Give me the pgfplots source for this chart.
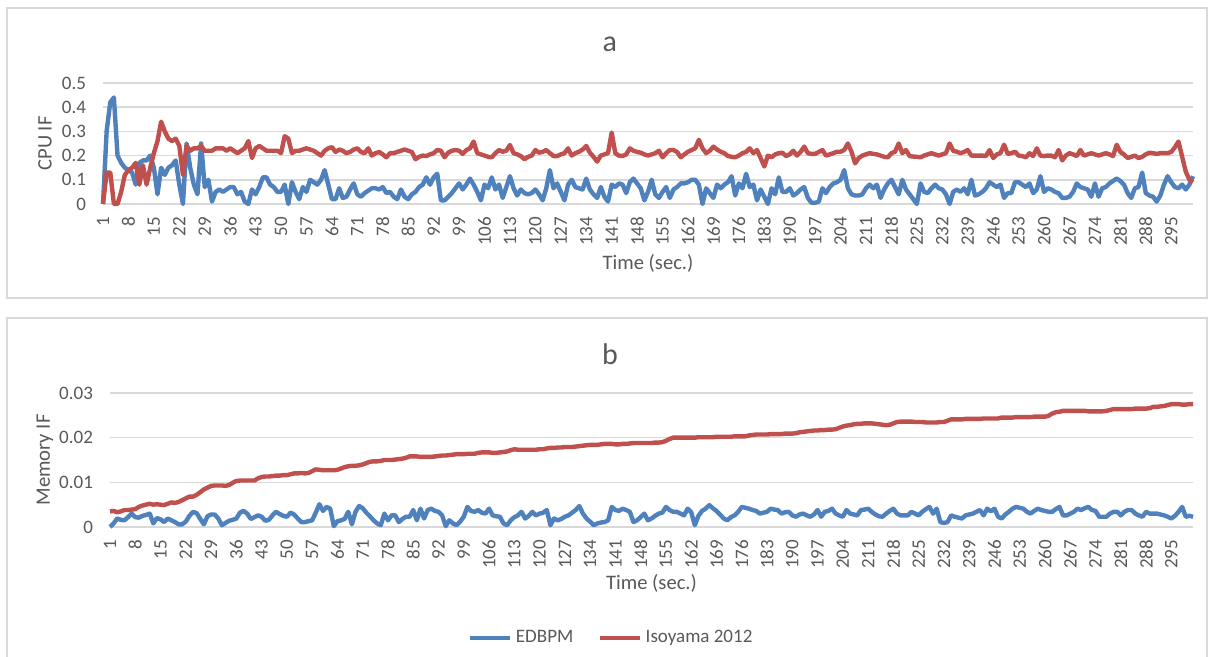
\documentclass[border=0pt]{standalone}
\usepackage{fontspec}
\setmainfont{Carlito}
\usepackage{pgfplots}
\usepackage{pgfplotstable}
\pgfplotsset{compat=1.18}
\definecolor{exblue}{HTML}{4F81BD}
\definecolor{exred}{HTML}{C0504D}
\definecolor{txt}{HTML}{595959}
\definecolor{grd}{HTML}{D9D9D9}

\pgfplotstableread{
i ab ar bb br
1 0 0 0 0.0035
2 0.30 0.13 0.0008 0.0036
3 0.42 0.13 0.0019 0.0033
4 0.44 0 0.0016 0.0035
5 0.20 0 0.0015 0.0038
6 0.17 0.05 0.0022 0.0038
7 0.15 0.12 0.0030 0.0039
8 0.14 0.14 0.0022 0.0040
9 0.13 0.15 0.0021 0.0045
10 0.08 0.17 0.0025 0.0048
11 0.17 0.08 0.0027 0.0050
12 0.18 0.16 0.0030 0.0052
13 0.18 0.08 0.0008 0.0050
14 0.20 0.15 0.0020 0.0051
15 0.15 0.21 0.0017 0.0050
16 0.04 0.26 0.0011 0.0049
17 0.15 0.34 0.0019 0.0052
18 0.12 0.30 0.0015 0.0055
19 0.15 0.27 0.0011 0.0054
20 0.16 0.26 0.0006 0.0056
21 0.18 0.27 0.0006 0.0060
22 0.08 0.24 0.0012 0.0064
23 0.00 0.12 0.0025 0.0068
24 0.25 0.24 0.0034 0.0068
25 0.15 0.22 0.0031 0.0072
26 0.08 0.23 0.0018 0.0078
27 0.04 0.23 0.0006 0.0084
28 0.25 0.24 0.0024 0.0088
29 0.07 0.22 0.0028 0.0092
30 0.10 0.22 0.0028 0.0093
31 0.01 0.22 0.0019 0.0093
32 0.05 0.23 0.0004 0.0093
33 0.06 0.23 0.0009 0.0092
34 0.05 0.23 0.0014 0.0094
35 0.06 0.22 0.0016 0.0099
36 0.07 0.23 0.0019 0.0103
37 0.07 0.22 0.0032 0.0104
38 0.04 0.21 0.0036 0.0104
39 0.05 0.22 0.0030 0.0104
40 0.01 0.23 0.0018 0.0104
41 0.00 0.26 0.0022 0.0104
42 0.06 0.19 0.0026 0.0109
43 0.04 0.23 0.0023 0.0112
44 0.07 0.24 0.0014 0.0113
45 0.11 0.23 0.0016 0.0113
46 0.11 0.22 0.0026 0.0114
47 0.08 0.22 0.0034 0.0115
48 0.07 0.22 0.0029 0.0115
49 0.05 0.22 0.0025 0.0116
50 0.05 0.21 0.0023 0.0116
51 0.08 0.28 0.0032 0.0118
52 0.00 0.27 0.0028 0.0120
53 0.09 0.21 0.0019 0.0120
54 0.05 0.22 0.0011 0.0121
55 0.02 0.22 0.0011 0.0120
56 0.07 0.225 0.0013 0.0121
57 0.05 0.23 0.0015 0.0125
58 0.10 0.225 0.0032 0.0129
59 0.09 0.22 0.0051 0.0128
60 0.08 0.21 0.0036 0.0127
61 0.10 0.20 0.0045 0.0127
62 0.14 0.22 0.0041 0.0127
63 0.08 0.23 0.0002 0.0127
64 0.02 0.235 0.0013 0.0128
65 0.02 0.215 0.0015 0.0131
66 0.065 0.225 0.0018 0.0134
67 0.025 0.22 0.0034 0.0136
68 0.03 0.21 0.0006 0.0137
69 0.06 0.215 0.0034 0.0137
70 0.085 0.225 0.0047 0.0138
71 0.04 0.23 0.0042 0.0140
72 0.03 0.215 0.0032 0.0143
73 0.045 0.21 0.0024 0.0146
74 0.055 0.23 0.0015 0.0147
75 0.065 0.20 0.0008 0.0147
76 0.065 0.21 0.0004 0.0148
77 0.06 0.215 0.0030 0.0150
78 0.07 0.205 0.0015 0.0150
79 0.045 0.193 0.0026 0.0150
80 0.05 0.21 0.0026 0.0151
81 0.03 0.21 0.0011 0.0152
82 0.02 0.215 0.0018 0.0153
83 0.06 0.22 0.0023 0.0155
84 0.03 0.225 0.0023 0.0158
85 0.02 0.22 0.0038 0.0158
86 0.04 0.215 0.0015 0.0158
87 0.05 0.185 0.0041 0.0157
88 0.07 0.195 0.0019 0.0157
89 0.08 0.20 0.0038 0.0157
90 0.11 0.198 0.0041 0.0157
91 0.08 0.205 0.0036 0.0158
92 0.11 0.21 0.0034 0.0159
93 0.125 0.223 0.0026 0.0160
94 0.015 0.22 0.0002 0.0160
95 0.015 0.193 0.0015 0.0161
96 0.03 0.212 0.0008 0.0162
97 0.045 0.22 0.0004 0.0163
98 0.065 0.223 0.0012 0.0163
99 0.085 0.22 0.0023 0.0163
100 0.06 0.207 0.0045 0.0164
101 0.08 0.223 0.0036 0.0164
102 0.105 0.23 0.0034 0.0164
103 0.08 0.258 0.0038 0.0166
104 0.05 0.21 0.0032 0.0167
105 0.015 0.205 0.0030 0.0167
106 0.08 0.20 0.0041 0.0167
107 0.065 0.195 0.0026 0.0166
108 0.11 0.193 0.0024 0.0166
109 0.06 0.21 0.0023 0.0167
110 0.08 0.223 0.0008 0.0168
111 0.025 0.216 0.0004 0.0169
112 0.07 0.22 0.0015 0.0172
113 0.115 0.244 0.0022 0.0174
114 0.065 0.21 0.0026 0.0173
115 0.035 0.205 0.0034 0.0173
116 0.06 0.198 0.0019 0.0173
117 0.045 0.185 0.0025 0.0173
118 0.04 0.195 0.0034 0.0173
119 0.045 0.20 0.0026 0.0173
120 0.06 0.223 0.0030 0.0174
121 0.04 0.212 0.0032 0.0174
122 0.015 0.215 0.0038 0.0176
123 0.065 0.223 0.0004 0.0177
124 0.14 0.21 0.0019 0.0177
125 0.065 0.198 0.0015 0.0178
126 0.085 0.198 0.0018 0.0178
127 0.05 0.205 0.0023 0.0179
128 0.015 0.21 0.0026 0.0179
129 0.08 0.23 0.0032 0.0179
130 0.10 0.20 0.0038 0.0180
131 0.07 0.21 0.0047 0.0181
132 0.065 0.216 0.0030 0.0182
133 0.06 0.225 0.0019 0.0183
134 0.105 0.24 0.0012 0.0184
135 0.06 0.212 0.0004 0.0184
136 0.04 0.195 0.0008 0.0184
137 0.025 0.175 0.0010 0.0185
138 0.07 0.20 0.0011 0.0186
139 0.03 0.205 0.0015 0.0186
140 0.01 0.21 0.0045 0.0186
141 0.08 0.295 0.0038 0.0185
142 0.07 0.21 0.0036 0.0185
143 0.085 0.20 0.0041 0.0186
144 0.08 0.198 0.0038 0.0186
145 0.045 0.205 0.0034 0.0187
146 0.09 0.23 0.0011 0.0188
147 0.105 0.22 0.0015 0.0188
148 0.085 0.215 0.0022 0.0188
149 0.065 0.212 0.0030 0.0188
150 0.015 0.205 0.0015 0.0188
151 0.05 0.20 0.0019 0.0188
152 0.10 0.205 0.0025 0.0189
153 0.04 0.21 0.0030 0.0189
154 0.025 0.22 0.0032 0.0190
155 0.05 0.193 0.0045 0.0193
156 0.07 0.21 0.0038 0.0197
157 0.025 0.223 0.0034 0.0200
158 0.06 0.223 0.0034 0.0200
159 0.07 0.215 0.0030 0.0200
160 0.085 0.193 0.0026 0.0200
161 0.085 0.205 0.0041 0.0200
162 0.09 0.216 0.0033 0.0200
163 0.10 0.223 0.0004 0.0200
164 0.10 0.23 0.0025 0.0201
165 0.08 0.265 0.0036 0.0201
166 0.00 0.23 0.0041 0.0201
167 0.065 0.21 0.0049 0.0201
168 0.045 0.22 0.0042 0.0201
169 0.025 0.237 0.0036 0.0202
170 0.08 0.225 0.0028 0.0202
171 0.065 0.216 0.0019 0.0202
172 0.08 0.21 0.0015 0.0202
173 0.09 0.198 0.0022 0.0202
174 0.115 0.195 0.0026 0.0203
175 0.035 0.193 0.0034 0.0203
176 0.085 0.20 0.0045 0.0203
177 0.065 0.21 0.0043 0.0203
178 0.125 0.215 0.0041 0.0205
179 0.07 0.23 0.0038 0.0206
180 0.08 0.21 0.0036 0.0207
181 0.015 0.223 0.0030 0.0207
182 0.06 0.19 0.0032 0.0207
183 0.03 0.155 0.0034 0.0207
184 0.00 0.20 0.0041 0.0208
185 0.065 0.193 0.0039 0.0208
186 0.04 0.205 0.0038 0.0208
187 0.11 0.21 0.0030 0.0208
188 0.05 0.212 0.0033 0.0209
189 0.05 0.198 0.0034 0.0209
190 0.065 0.205 0.0026 0.0209
191 0.035 0.22 0.0023 0.0210
192 0.045 0.20 0.0028 0.0212
193 0.06 0.215 0.0030 0.0213
194 0.07 0.237 0.0026 0.0214
195 0.025 0.21 0.0023 0.0215
196 0.005 0.207 0.0028 0.0216
197 0.005 0.207 0.0038 0.0216
198 0.01 0.215 0.0023 0.0217
199 0.065 0.223 0.0034 0.0217
200 0.045 0.20 0.0036 0.0218
201 0.07 0.205 0.0041 0.0218
202 0.085 0.21 0.0030 0.0219
203 0.09 0.216 0.0026 0.0222
204 0.10 0.216 0.0023 0.0225
205 0.14 0.223 0.0038 0.0227
206 0.065 0.25 0.0030 0.0228
207 0.04 0.216 0.0028 0.0230
208 0.035 0.168 0.0026 0.0231
209 0.035 0.19 0.0038 0.0231
210 0.04 0.20 0.0039 0.0232
211 0.065 0.205 0.0041 0.0232
212 0.08 0.21 0.0034 0.0232
213 0.065 0.207 0.0028 0.0231
214 0.08 0.205 0.0024 0.0230
215 0.025 0.20 0.0023 0.0229
216 0.06 0.195 0.0030 0.0228
217 0.085 0.193 0.0036 0.0229
218 0.10 0.21 0.0041 0.0232
219 0.07 0.216 0.0030 0.0235
220 0.04 0.25 0.0026 0.0236
221 0.10 0.21 0.0026 0.0236
222 0.06 0.223 0.0026 0.0236
223 0.04 0.198 0.0034 0.0236
224 0.02 0.196 0.0030 0.0235
225 0.00 0.195 0.0026 0.0235
226 0.085 0.193 0.0034 0.0235
227 0.05 0.20 0.0040 0.0234
228 0.045 0.205 0.0045 0.0234
229 0.065 0.21 0.0030 0.0234
230 0.08 0.205 0.0041 0.0234
231 0.065 0.20 0.0011 0.0235
232 0.06 0.205 0.0009 0.0235
233 0.04 0.21 0.0011 0.0238
234 0.00 0.25 0.0026 0.0241
235 0.05 0.22 0.0023 0.0241
236 0.06 0.216 0.0021 0.0241
237 0.05 0.21 0.0019 0.0241
238 0.065 0.215 0.0026 0.0242
239 0.04 0.223 0.0028 0.0242
240 0.10 0.20 0.0030 0.0242
241 0.035 0.20 0.0034 0.0242
242 0.04 0.20 0.0038 0.0242
243 0.05 0.20 0.0026 0.0243
244 0.065 0.198 0.0041 0.0243
245 0.09 0.223 0.0035 0.0243
246 0.08 0.19 0.0041 0.0243
247 0.07 0.205 0.0023 0.0243
248 0.08 0.21 0.0019 0.0245
249 0.025 0.245 0.0028 0.0245
250 0.045 0.207 0.0034 0.0245
251 0.045 0.21 0.0041 0.0245
252 0.09 0.216 0.0045 0.0246
253 0.09 0.20 0.0043 0.0246
254 0.08 0.198 0.0041 0.0246
255 0.07 0.193 0.0034 0.0246
256 0.085 0.21 0.0030 0.0246
257 0.045 0.198 0.0036 0.0247
258 0.06 0.23 0.0041 0.0247
259 0.115 0.20 0.0038 0.0247
260 0.05 0.198 0.0036 0.0247
261 0.065 0.20 0.0034 0.0249
262 0.06 0.20 0.0034 0.0254
263 0.05 0.193 0.0040 0.0257
264 0.045 0.223 0.0045 0.0258
265 0.025 0.18 0.0026 0.0260
266 0.025 0.20 0.0026 0.0260
267 0.03 0.21 0.0030 0.0260
268 0.05 0.205 0.0034 0.0260
269 0.085 0.198 0.0041 0.0260
270 0.07 0.223 0.0038 0.0260
271 0.065 0.20 0.0042 0.0260
272 0.06 0.205 0.0045 0.0259
273 0.03 0.21 0.0038 0.0259
274 0.085 0.205 0.0036 0.0259
275 0.03 0.20 0.0023 0.0259
276 0.065 0.205 0.0023 0.0259
277 0.07 0.21 0.0023 0.0260
278 0.085 0.205 0.0030 0.0262
279 0.095 0.198 0.0034 0.0264
280 0.105 0.245 0.0034 0.0264
281 0.095 0.215 0.0026 0.0264
282 0.08 0.205 0.0034 0.0264
283 0.045 0.19 0.0038 0.0264
284 0.025 0.195 0.0038 0.0264
285 0.065 0.20 0.0030 0.0265
286 0.07 0.19 0.0026 0.0265
287 0.13 0.195 0.0023 0.0265
288 0.045 0.205 0.0034 0.0265
289 0.035 0.212 0.0030 0.0266
290 0.03 0.21 0.0030 0.0269
291 0.01 0.207 0.0030 0.0269
292 0.035 0.21 0.0028 0.0270
293 0.08 0.21 0.0026 0.0271
294 0.115 0.21 0.0023 0.0273
295 0.09 0.215 0.0019 0.0275
296 0.07 0.234 0.0025 0.0275
297 0.065 0.258 0.0034 0.0275
298 0.08 0.196 0.0045 0.0274
299 0.06 0.134 0.0023 0.0274
300 0.08 0.10 0.0025 0.0275
301 0.115 0.09 0.0023 0.0275
}\datatable

\pgfplotsset{
  excelchart/.style={
    scale only axis,
    xmin=1, xmax=301,
    clip=false,
    axis line style={draw=none},
    major tick length=0pt,
    ymajorgrids,
    major grid style={grd, line width=0.75pt},
    xtick={1,8,...,295},
    scaled y ticks=false,
    /pgf/number format/assume math mode=true,
    tick label style={font=\fontsize{9.5}{11}\selectfont, text=txt},
    xticklabel style={rotate=90, anchor=east},
    xticklabel shift=3pt,
    yticklabel shift=5pt,
  },
}

\begin{document}
\begin{tikzpicture}
\path[use as bounding box, fill=white] (0,0) rectangle (604pt,328.5pt);
\draw[grd, line width=0.75pt] (3.5pt,324.5pt) rectangle (603.5pt,179.5pt);
\draw[grd, line width=0.75pt] (3.5pt,-2pt) -- (3.5pt,169.5pt) -- (603.5pt,169.5pt) -- (603.5pt,-2pt);

\begin{axis}[excelchart,
  at={(51.5pt,226.5pt)}, anchor=south west,
  width=545pt, height=60.5pt,
  ymin=0, ymax=0.5,
  ytick={0,0.1,0.2,0.3,0.4,0.5},
  yticklabels={0,0.1,0.2,0.3,0.4,0.5},
  title={a},
  every axis title/.style={at={(axis description cs:0.465,1.322)}, anchor=center, font=\fontsize{15}{17}\selectfont, text=txt},
  xlabel={Time (sec.)},
  every axis x label/.style={at={(axis description cs:0.5,-0.488)}, anchor=center, font=\fontsize{10.3}{12}\selectfont, text=txt},
  ylabel={CPU IF},
  every axis y label/.style={at={(axis description cs:-0.0532,0.5)}, rotate=90, anchor=center, font=\fontsize{10.3}{12}\selectfont, text=txt},
]
\addplot[exblue, line width=2.2pt, line join=round] table[x=i, y=ab] {\datatable};
\addplot[exred, line width=2.2pt, line join=round] table[x=i, y=ar] {\datatable};
\end{axis}

\begin{axis}[excelchart,
  at={(55pt,65pt)}, anchor=south west,
  width=541.5pt, height=67pt,
  ymin=0, ymax=0.03,
  ytick={0,0.01,0.02,0.03},
  yticklabels={0,0.01,0.02,0.03},
  title={b},
  every axis title/.style={at={(axis description cs:0.4617,1.291)}, anchor=center, font=\fontsize{15}{17}\selectfont, text=txt},
  xlabel={Time (sec.)},
  every axis x label/.style={at={(axis description cs:0.5,-0.418)}, anchor=center, font=\fontsize{10.3}{12}\selectfont, text=txt},
  ylabel={Memory IF},
  every axis y label/.style={at={(axis description cs:-0.060,0.5)}, rotate=90, anchor=center, font=\fontsize{10.3}{12}\selectfont, text=txt},
  legend columns=2,
  legend style={at={(axis description cs:0.4635,-0.828)}, anchor=center, draw=none,
    font=\fontsize{9.5}{11}\selectfont, text=txt,
    /tikz/every even column/.append style={column sep=10pt}},
  legend image code/.code={\draw[#1] (0pt,0pt) -- (20pt,0pt);},
]
\addplot[exblue, line width=2.2pt, line join=round] table[x=i, y=bb] {\datatable};
\addlegendentry{EDBPM}
\addplot[exred, line width=2.2pt, line join=round] table[x=i, y=br] {\datatable};
\addlegendentry{Isoyama 2012}
\end{axis}
\end{tikzpicture}
\end{document}
